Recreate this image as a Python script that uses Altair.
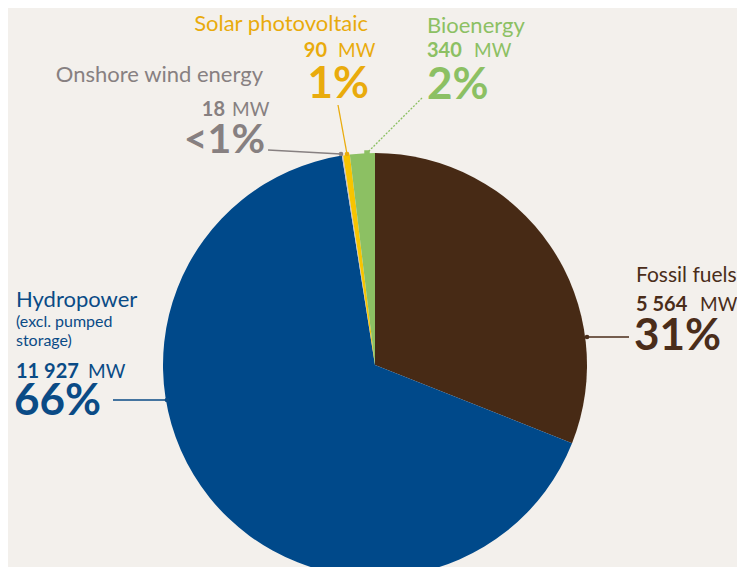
import altair as alt
import pandas as pd

# ---- data ----
sources = ["Fossil fuels", "Hydropower", "Onshore wind energy", "Solar photovoltaic", "Bioenergy"]
capacity_mw = [5564, 11927, 18, 90, 340]
share_labels = ["31%", "66%", "<1%", "1%", "2%"]
mw_labels = ["5 564", "11 927", "18", "90", "340"]
slice_colors = ["#472a15", "#00498a", "#c9c3c2", "#f7c400", "#8cc063"]
text_colors = ["#4a2d1a", "#0a4b86", "#878081", "#e9ab0c", "#8cc063"]

BG = "#f3f0ec"
OFF = 8  # page margin: layout positions below are page pixels
W, H = 729, 559
CX, CY, R = 375, 365, 212

pie_df = pd.DataFrame({
    "source": sources,
    "mw": capacity_mw,
    "order": list(range(len(sources))),
    "color": slice_colors,
})

pie = alt.Chart(pie_df).mark_arc(radius=R, strokeWidth=0).encode(
    theta=alt.Theta("mw:Q", stack=True),
    order=alt.Order("order:Q", sort="ascending"),
    color=alt.Color("color:N", scale=None),
    x=alt.value(CX - OFF),
    y=alt.value(CY - OFF),
)

# ---- annotation layout (page pixels) ----
rows = []
def add(text, x, y, size, weight, align, ci):
    rows.append(dict(text=text, x=x - OFF, y=y - OFF, size=size, weight=weight,
                     align=align, color=text_colors[ci]))

LBL, NUM, MW, PCT = "normal", "bold", "normal", "bold"
# Solar photovoltaic (right aligned)
add(sources[3], 368, 31, 22, LBL, "right", 3)
add(mw_labels[3], 327, 57, 20, NUM, "right", 3)
add("MW", 338, 57, 19, MW, "left", 3)
add(share_labels[3], 369, 98, 44, PCT, "right", 3)
# Bioenergy (left aligned)
add(sources[4], 427, 33, 22, LBL, "left", 4)
add(mw_labels[4], 427, 57, 20, NUM, "left", 4)
add("MW", 474, 57, 19, MW, "left", 4)
add(share_labels[4], 427, 99, 44, PCT, "left", 4)
# Onshore wind (right aligned)
add(sources[2], 263, 82, 22, LBL, "right", 2)
add(mw_labels[2], 225, 116, 20, NUM, "right", 2)
add("MW", 232, 116, 19, MW, "left", 2)
add(share_labels[2], 265, 153, 41, PCT, "right", 2)
# Hydropower (left aligned)
add(sources[1], 16, 307, 22, LBL, "left", 1)
add("(excl. pumped", 16, 327, 16, LBL, "left", 1)
add("storage)", 16, 346, 16, LBL, "left", 1)
add(mw_labels[1], 16, 378, 20, NUM, "left", 1)
add("MW", 88, 378, 19, MW, "left", 1)
add(share_labels[1], 14, 415, 44, PCT, "left", 1)
# Fossil fuels (left aligned)
add(sources[0], 636, 282, 21, LBL, "left", 0)
add(mw_labels[0], 636, 311, 20, NUM, "left", 0)
add("MW", 700, 311, 19, MW, "left", 0)
add(share_labels[0], 634, 350, 44, PCT, "left", 0)

text_df = pd.DataFrame(rows)

text_layers = []
for (align, weight), g in text_df.groupby(["align", "weight"]):
    text_layers.append(
        alt.Chart(g).mark_text(align=align, baseline="alphabetic", font="Lato",
                               fontWeight=weight).encode(
            x=alt.X("x:Q", scale=None, axis=None),
            y=alt.Y("y:Q", scale=None, axis=None),
            text="text:N",
            size=alt.Size("size:Q", scale=None, legend=None),
            color=alt.Color("color:N", scale=None),
        )
    )

# leader lines (page pixels): x, y at label end, x2, y2 at pie edge
leaders = pd.DataFrame({
    "x": [268, 338, 113, 629],
    "y": [150, 105, 400, 337],
    "x2": [341, 347, 167, 587],
    "y2": [154, 154, 400, 337],
    "color": [text_colors[2], text_colors[3], text_colors[1], text_colors[0]],
})
for c in ["x", "x2", "y", "y2"]:
    leaders[c] = leaders[c] - OFF

lines = alt.Chart(leaders).mark_rule(strokeWidth=1.3).encode(
    x=alt.X("x:Q", scale=None, axis=None),
    y=alt.Y("y:Q", scale=None, axis=None),
    x2="x2:Q", y2="y2:Q",
    color=alt.Color("color:N", scale=None),
)
dots = alt.Chart(leaders).mark_circle(size=22, opacity=1).encode(
    x=alt.X("x2:Q", scale=None, axis=None),
    y=alt.Y("y2:Q", scale=None, axis=None),
    color=alt.Color("color:N", scale=None),
)

bio_leader = pd.DataFrame({"x": [422 - OFF], "y": [98 - OFF], "x2": [367 - OFF], "y2": [153 - OFF]})
bio_line = alt.Chart(bio_leader).mark_rule(strokeWidth=1.3, strokeDash=[2, 1.5],
                                           color=text_colors[4]).encode(
    x=alt.X("x:Q", scale=None, axis=None),
    y=alt.Y("y:Q", scale=None, axis=None),
    x2="x2:Q", y2="y2:Q",
)
bio_dot = alt.Chart(bio_leader).mark_square(size=30, opacity=1, color=text_colors[4]).encode(
    x=alt.X("x2:Q", scale=None, axis=None),
    y=alt.Y("y2:Q", scale=None, axis=None),
)

chart = alt.layer(pie, lines, bio_line, dots, bio_dot, *text_layers).properties(
    width=W, height=H, background=BG, padding=0,
    autosize=alt.AutoSizeParams(type="none"),
).configure_view(stroke=None)

chart.save("out.html", embed_options={"renderer": "svg", "actions": False})
